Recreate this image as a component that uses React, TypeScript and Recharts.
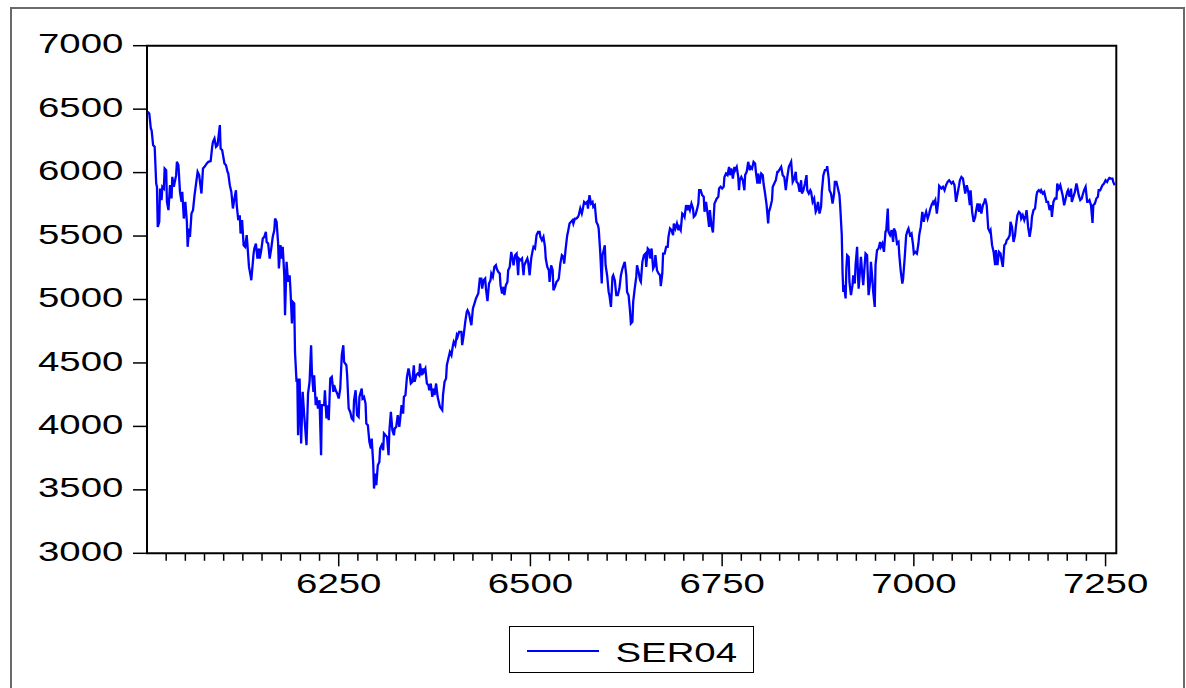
import { Line, LineChart, ReferenceArea, XAxis, YAxis } from 'recharts';

const OBS = [
  6001, 6003, 6005, 6006, 6008, 6010, 6012, 6013, 6014, 6016,
  6017, 6019, 6020, 6022, 6023, 6025, 6026, 6028, 6030, 6032,
  6033, 6035, 6038, 6039, 6041, 6043, 6045, 6046, 6048, 6050,
  6052, 6053, 6055, 6056, 6058, 6060, 6062, 6064, 6066, 6068,
  6071, 6073, 6075, 6078, 6080, 6083, 6085, 6086, 6088, 6090,
  6092, 6095, 6096, 6098, 6101, 6103, 6105, 6106, 6108, 6110,
  6112, 6114, 6116, 6117, 6119, 6121, 6122, 6124, 6126, 6128,
  6130, 6131, 6133, 6135, 6136, 6139, 6140, 6142, 6144, 6146,
  6147, 6149, 6151, 6153, 6155, 6156, 6158, 6160, 6162, 6164,
  6166, 6167, 6169, 6171, 6172, 6174, 6176, 6177, 6179, 6180,
  6182, 6184, 6186, 6187, 6189, 6190, 6192, 6193, 6195, 6196,
  6197, 6199, 6201, 6203, 6205, 6208, 6210, 6212, 6214, 6215,
  6217, 6218, 6220, 6221, 6223, 6225, 6227, 6228, 6231, 6232,
  6234, 6235, 6237, 6239, 6241, 6243, 6244, 6246, 6248, 6250,
  6252, 6254, 6256, 6257, 6260, 6261, 6263, 6265, 6267, 6269,
  6270, 6272, 6274, 6276, 6277, 6280, 6281, 6283, 6285, 6286,
  6288, 6290, 6292, 6293, 6295, 6296, 6298, 6299, 6301, 6303,
  6304, 6306, 6308, 6309, 6311, 6313, 6315, 6316, 6318, 6320,
  6322, 6323, 6325, 6327, 6329, 6330, 6332, 6334, 6335, 6337,
  6339, 6341, 6342, 6344, 6346, 6348, 6349, 6351, 6353, 6355,
  6356, 6358, 6360, 6361, 6363, 6365, 6367, 6368, 6370, 6372,
  6374, 6375, 6377, 6379, 6381, 6382, 6385, 6386, 6388, 6390,
  6391, 6393, 6395, 6397, 6399, 6400, 6402, 6404, 6405, 6407,
  6410, 6411, 6413, 6415, 6417, 6418, 6420, 6422, 6423, 6425,
  6427, 6429, 6430, 6432, 6434, 6436, 6437, 6439, 6441, 6442,
  6444, 6446, 6448, 6449, 6451, 6453, 6455, 6456, 6458, 6460,
  6461, 6463, 6465, 6466, 6468, 6470, 6471, 6473, 6475, 6477,
  6478, 6480, 6482, 6484, 6485, 6487, 6489, 6491, 6492, 6494,
  6496, 6497, 6499, 6501, 6503, 6504, 6506, 6508, 6510, 6512,
  6513, 6515, 6517, 6519, 6520, 6522, 6524, 6525, 6527, 6529,
  6530, 6532, 6534, 6536, 6537, 6539, 6541, 6543, 6544, 6546,
  6548, 6549, 6551, 6553, 6555, 6556, 6558, 6560, 6562, 6563,
  6565, 6567, 6568, 6570, 6572, 6574, 6575, 6577, 6579, 6581,
  6582, 6584, 6586, 6588, 6589, 6591, 6593, 6594, 6595, 6597,
  6598, 6600, 6602, 6603, 6605, 6607, 6608, 6610, 6612, 6614,
  6616, 6618, 6620, 6623, 6625, 6626, 6628, 6630, 6631, 6633,
  6634, 6636, 6638, 6639, 6641, 6643, 6644, 6646, 6648, 6650,
  6651, 6653, 6655, 6656, 6658, 6660, 6662, 6663, 6665, 6667,
  6669, 6670, 6672, 6673, 6675, 6677, 6679, 6680, 6682, 6684,
  6686, 6687, 6689, 6691, 6693, 6694, 6696, 6698, 6700, 6701,
  6703, 6705, 6706, 6708, 6710, 6712, 6713, 6715, 6717, 6719,
  6720, 6722, 6724, 6726, 6727, 6729, 6731, 6733, 6734, 6736,
  6738, 6740, 6741, 6743, 6745, 6746, 6748, 6750, 6752, 6753,
  6755, 6757, 6759, 6760, 6762, 6764, 6766, 6767, 6769, 6771,
  6772, 6773, 6775, 6777, 6779, 6780, 6782, 6784, 6786, 6787,
  6789, 6791, 6793, 6794, 6796, 6797, 6799, 6801, 6803, 6804,
  6806, 6808, 6810, 6811, 6813, 6815, 6816, 6818, 6820, 6822,
  6823, 6827, 6829, 6831, 6833, 6835, 6837, 6839, 6840, 6842,
  6844, 6846, 6847, 6849, 6851, 6853, 6854, 6856, 6858, 6860,
  6861, 6863, 6865, 6866, 6868, 6870, 6872, 6873, 6875, 6877,
  6879, 6880, 6882, 6884, 6886, 6887, 6889, 6890, 6892, 6894,
  6896, 6897, 6899, 6901, 6903, 6904, 6906, 6907, 6908, 6909,
  6911, 6912, 6913, 6915, 6916, 6918, 6920, 6921, 6923, 6924,
  6926, 6927, 6928, 6930, 6931, 6933, 6934, 6936, 6937, 6939,
  6940, 6941, 6943, 6944, 6946, 6947, 6949, 6950, 6952, 6954,
  6956, 6957, 6959, 6961, 6963, 6964, 6966, 6967, 6969, 6971,
  6973, 6974, 6976, 6978, 6980, 6981, 6983, 6985, 6986, 6988,
  6990, 6992, 6993, 6995, 6997, 6999, 7000, 7002, 7004, 7006,
  7007, 7009, 7011, 7013, 7014, 7016, 7018, 7020, 7021, 7023,
  7025, 7026, 7028, 7030, 7032, 7033, 7036, 7038, 7040, 7042,
  7044, 7046, 7049, 7051, 7053, 7055, 7057, 7059, 7060, 7062,
  7064, 7066, 7067, 7069, 7071, 7073, 7074, 7076, 7078, 7080,
  7081, 7083, 7085, 7086, 7088, 7090, 7092, 7093, 7095, 7097,
  7099, 7100, 7102, 7104, 7106, 7107, 7109, 7111, 7113, 7114,
  7116, 7118, 7120, 7121, 7123, 7125, 7126, 7128, 7130, 7132,
  7133, 7135, 7137, 7139, 7140, 7142, 7144, 7146, 7147, 7149,
  7151, 7153, 7154, 7156, 7158, 7160, 7161, 7163, 7165, 7166,
  7168, 7170, 7172, 7173, 7175, 7177, 7179, 7180, 7182, 7184,
  7186, 7187, 7189, 7191, 7193, 7194, 7196, 7198, 7200, 7201,
  7203, 7205, 7206, 7208, 7210, 7212, 7213, 7215, 7217, 7219,
  7220, 7222, 7224, 7226, 7227, 7229, 7231, 7233, 7234, 7236,
  7238, 7240, 7241, 7243, 7245, 7246, 7248, 7250, 7252, 7253,
  7255, 7257, 7259, 7260, 7262,
];

const SER04 = [
  6480, 6465, 6347, 6334, 6216, 6203, 5914, 5888, 5572, 5612,
  5874, 5783, 5888, 5874, 6032, 6019, 5769, 5704, 5901, 5796,
  5966, 5888, 5980, 6085, 6058, 5848, 5769, 5848, 5638, 5769,
  5612, 5415, 5559, 5494, 5677, 5704, 5822, 5914, 6006, 5980,
  5835, 6032, 6045, 6072, 6085, 6090, 6203, 6242, 6268, 6203,
  6216, 6374, 6190, 6177, 6072, 6058, 6006, 5993, 5901, 5848,
  5717, 5796, 5861, 5743, 5625, 5664, 5520, 5625, 5428, 5415,
  5507, 5428, 5257, 5191, 5152, 5362, 5402, 5441, 5323, 5402,
  5323, 5389, 5480, 5494, 5533, 5454, 5441, 5323, 5402, 5494,
  5546, 5638, 5612, 5441, 5244, 5428, 5323, 5415, 5191, 4876,
  5297, 5139, 5191, 5086, 4811, 4981, 4968, 4587, 4351, 4377,
  3930, 4377, 3865, 4272, 4088, 3852, 4259, 4351, 4640, 4430,
  4272, 4403, 4167, 4233, 4141, 4206, 3773, 4167, 4167, 4285,
  4062, 4167, 4049, 4377, 4390, 4272, 4325, 4285, 4259, 4220,
  4298, 4561, 4640, 4508, 4482, 4403, 4141, 4114, 4062, 4049,
  4206, 4285, 4088, 4075, 4233, 4298, 4220, 4233, 4180, 4022,
  4009, 3878, 3825, 3904, 3707, 3510, 3628, 3537, 3694, 3720,
  3825, 3852, 3812, 3944, 3930, 3917, 3773, 3957, 4114, 3970,
  3930, 3983, 3996, 4088, 3996, 4049, 4167, 4101, 4233, 4246,
  4390, 4456, 4430, 4338, 4351, 4482, 4351, 4403, 4417, 4403,
  4495, 4403, 4456, 4430, 4456, 4338, 4325, 4285, 4338, 4233,
  4298, 4246, 4338, 4233, 4180, 4154, 4128, 4246, 4351, 4377,
  4482, 4535, 4587, 4561, 4640, 4666, 4640, 4719, 4706, 4745,
  4745, 4640, 4719, 4824, 4903, 4916, 4889, 4824, 4797, 4929,
  4968, 5008, 5021, 5047, 5165, 5165, 5086, 5152, 5165, 5086,
  4987, 5126, 5152, 5205, 5178, 5257, 5270, 5244, 5218, 5205,
  5113, 5047, 5100, 5034, 5113, 5139, 5231, 5257, 5375, 5310,
  5270, 5349, 5362, 5191, 5323, 5310, 5323, 5191, 5270, 5297,
  5323, 5297, 5191, 5323, 5389, 5415, 5402, 5507, 5533, 5533,
  5494, 5467, 5494, 5415, 5323, 5257, 5231, 5139, 5270, 5231,
  5073, 5100, 5139, 5152, 5165, 5283, 5349, 5336, 5283, 5402,
  5507, 5533, 5599, 5612, 5625, 5599, 5638, 5638, 5651, 5664,
  5717, 5677, 5704, 5769, 5756, 5769, 5717, 5822, 5756, 5769,
  5730, 5743, 5612, 5586, 5559, 5375, 5126, 5349, 5375, 5428,
  5270, 5191, 5060, 5034, 4942, 5178, 5191, 5152, 5034, 5034,
  5086, 5191, 5244, 5297, 5191, 5060, 5034, 4903, 4811, 4824,
  4981, 5086, 5178, 5270, 5218, 5152, 5139, 5297, 5349, 5362,
  5257, 5402, 5389, 5323, 5402, 5244, 5270, 5349, 5231, 5205,
  5191, 5105, 5205, 5362, 5362, 5415, 5415, 5494, 5559, 5546,
  5507, 5599, 5559, 5599, 5546, 5572, 5546, 5677, 5664, 5651,
  5743, 5704, 5743, 5704, 5756, 5717, 5651, 5664, 5704, 5756,
  5861, 5861, 5822, 5809, 5691, 5769, 5677, 5572, 5704, 5586,
  5528, 5756, 5769, 5796, 5809, 5874, 5888, 5874, 5888, 5966,
  5993, 5980, 6045, 5980, 6032, 5953, 6045, 6019, 6045, 5966,
  5861, 5940, 5966, 5940, 5861, 5980, 6006, 6085, 6019, 6045,
  6032, 6085, 6072, 6006, 5914, 5993, 5914, 5993, 5980, 5914,
  5835, 5743, 5599, 5691, 5730, 5783, 5888, 5914, 5940, 6006,
  6006, 6045, 5980, 5966, 5861, 5966, 6045, 6072, 6085, 5927,
  5953, 6006, 5927, 5914, 5848, 5940, 5835, 5861, 5914, 5980,
  5861, 5835, 5861, 5848, 5769, 5796, 5691, 5704, 5769, 5677,
  5730, 5848, 5980, 6019, 6019, 6050, 5953, 5861, 5835, 5756,
  5835, 5927, 5927, 5874, 5822, 5730, 5507, 5218, 5060, 5113,
  5008, 5244, 5349, 5336, 5139, 5034, 5113, 5191, 5126, 5270,
  5415, 5218, 5086, 5244, 5336, 5178, 5113, 5283, 5362, 5349,
  5178, 5034, 5139, 5297, 5152, 5060, 4942, 5270, 5389, 5402,
  5454, 5415, 5441, 5375, 5533, 5546, 5717, 5533, 5507, 5546,
  5454, 5559, 5533, 5441, 5454, 5349, 5218, 5126, 5165, 5323,
  5507, 5546, 5559, 5507, 5520, 5428, 5362, 5375, 5362, 5441,
  5507, 5572, 5691, 5612, 5651, 5691, 5638, 5677, 5704, 5743,
  5769, 5756, 5783, 5677, 5783, 5895, 5874, 5888, 5861, 5901,
  5927, 5940, 5914, 5927, 5901, 5769, 5835, 5901, 5940, 5966,
  5953, 5874, 5835, 5901, 5848, 5743, 5861, 5691, 5612, 5651,
  5691, 5756, 5691, 5756, 5677, 5743, 5769, 5796, 5743, 5559,
  5533, 5546, 5428, 5375, 5270, 5389, 5270, 5375, 5362, 5323,
  5257, 5428, 5441, 5467, 5480, 5507, 5612, 5572, 5454, 5507,
  5572, 5664, 5691, 5677, 5638, 5664, 5625, 5664, 5704, 5572,
  5494, 5572, 5651, 5704, 5717, 5822, 5848, 5861, 5848, 5861,
  5835, 5848, 5796, 5769, 5769, 5704, 5743, 5651, 5769, 5796,
  5796, 5914, 5874, 5901, 5848, 5822, 5743, 5796, 5848, 5861,
  5809, 5874, 5769, 5809, 5848, 5914, 5888, 5822, 5783, 5796,
  5822, 5861, 5888, 5769, 5769, 5783, 5743, 5604, 5743, 5756,
  5796, 5809, 5861, 5861, 5888, 5901, 5914, 5940, 5927, 5940,
  5958, 5953, 5953, 5927, 5901,
];

const X_LABELS = [6250, 6500, 6750, 7000, 7250];
const Y_LABELS = [3000, 3500, 4000, 4500, 5000, 5500, 6000, 6500, 7000];

// minor tick marks every 25 observations
const X_TICKS: number[] = [];
for (let t = 6025; t <= 7250; t += 25) X_TICKS.push(t);

const data = OBS.slice(0, Math.min(OBS.length, SER04.length)).map((obs, i) => ({
  obs,
  value: SER04[i],
}));

const FONT = '"Liberation Sans", Arial, Helvetica, sans-serif';
const STRETCH = 1.37;

const XTick = ({ x, y, payload }: any) => {
  const major = X_LABELS.includes(payload.value);
  return (
    <g>
      <line x1={x} x2={x} y1={y} y2={y + (major ? 13 : 7.5)} stroke="#000" strokeWidth={1.5} />
      {major && (
        <text
          fill="#000"
          fontFamily={FONT}
          fontSize={28}
          textAnchor="middle"
          transform={`translate(${x},${y + 40}) scale(${STRETCH},1)`}
        >
          {payload.value}
        </text>
      )}
    </g>
  );
};

const YTick = ({ x, y, payload }: any) => (
  <g>
    <line x1={x - 14} x2={x} y1={y} y2={y} stroke="#000" strokeWidth={1.5} />
    <text
      fill="#000"
      fontFamily={FONT}
      fontSize={28}
      textAnchor="end"
      transform={`translate(${x - 23.7},${y + 7.6}) scale(${STRETCH},1)`}
    >
      {payload.value}
    </text>
  </g>
);

export default function App() {
  return (
    <div
      style={{
        position: 'fixed',
        left: 0,
        top: 0,
        width: 1186,
        height: 688,
        background: '#fff',
        overflow: 'hidden',
      }}
    >
      <div
        style={{
          position: 'absolute',
          left: 10,
          top: 7,
          width: 1174.5,
          height: 700,
          border: '2px solid #6a6a6a',
          boxSizing: 'border-box',
        }}
      />
      <LineChart
        data={data}
        height={688}
        margin={{ top: 45.7, right: 69.7, bottom: 94.7, left: 8 }}
        style={{ position: 'absolute', left: 0, top: 0 }}
        width={1186}
      >
        <XAxis
          allowDataOverflow
          axisLine={false}
          dataKey="obs"
          domain={[6000, 7264]}
          height={40}
          interval={0}
          tick={<XTick />}
          tickLine={false}
          tickMargin={0}
          tickSize={0}
          ticks={X_TICKS}
          type="number"
        />
        <YAxis
          allowDataOverflow
          axisLine={false}
          domain={[3000, 7000]}
          interval={0}
          tick={<YTick />}
          tickLine={false}
          tickMargin={0}
          tickSize={0}
          ticks={Y_LABELS}
          type="number"
          width={139}
        />
        <Line
          dataKey="value"
          dot={false}
          isAnimationActive={false}
          stroke="#0000ff"
          strokeWidth={2.3}
          type="linear"
        />
        <ReferenceArea
          fill="none"
          stroke="#000"
          strokeWidth={2}
          x1={6000}
          x2={7264}
          y1={3000}
          y2={7000}
        />
      </LineChart>
      <div
        style={{
          position: 'absolute',
          left: 508.5,
          top: 626,
          width: 245,
          height: 46.5,
          border: '1.5px solid #000',
          boxSizing: 'border-box',
        }}
      >
        <svg height={44} style={{ display: 'block' }} width={242}>
          <line x1={17} x2={89} y1={24} y2={24} stroke="#0000ff" strokeWidth={2} />
          <text
            fill="#000"
            fontFamily={FONT}
            fontSize={28}
            transform={`translate(105.5,35) scale(${STRETCH},1)`}
          >
            SER04
          </text>
        </svg>
      </div>
    </div>
  );
}
